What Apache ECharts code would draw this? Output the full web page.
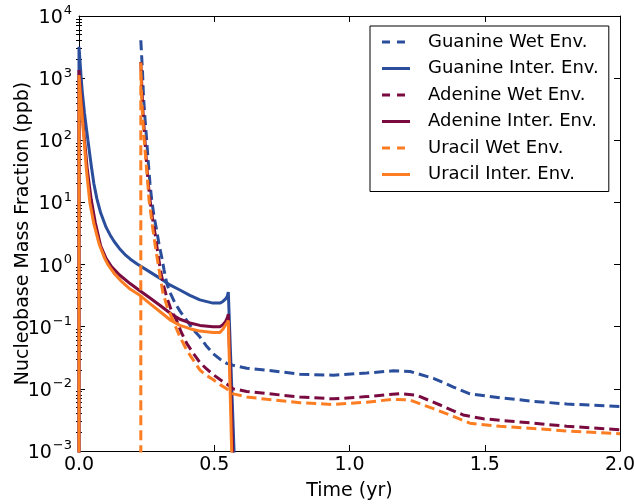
<!DOCTYPE html>
<html>
<head>
<meta charset="utf-8">
<script src="https://cdn.jsdelivr.net/npm/echarts@6/dist/echarts.min.js"></script>
<style>
html,body{margin:0;padding:0;background:#fff;}
#chart{width:634px;height:504px;}
</style>
</head>
<body>
<div id="chart"></div>
<script>
// ---- data: [time (yr), mass fraction (ppb)] ----
const guanineWet = [[0.2285,4070],[0.2348,1259],[0.2384,501],[0.2440,224],[0.2503,100],[0.2569,39.8],[0.2625,20],[0.2688,11],[0.2773,6.0],[0.2872,3.55],[0.2957,2.14],[0.3057,1.32],[0.3142,0.83],[0.3242,0.5],[0.3364,0.355],[0.3549,0.24],[0.3734,0.178],[0.3982,0.126],[0.4214,0.091],[0.4473,0.068],[0.4695,0.05],[0.4954,0.037],[0.5213,0.030],[0.5460,0.0257],[0.5693,0.024],[0.62,0.0214],[0.694,0.020],[0.817,0.0172],[0.94,0.0166],[1.064,0.018],[1.162,0.0195],[1.224,0.019],[1.31,0.0148],[1.384,0.0107],[1.445,0.0083],[1.556,0.0072],[1.68,0.0063],[1.803,0.0057],[2.0,0.0052]];
const guanineInter = [[0,1e-5],[0,3200],[0.004,1800],[0.008,1000],[0.013,550],[0.02,280],[0.027,160],[0.033,100],[0.045,40],[0.055,20],[0.066,11.5],[0.08,6.8],[0.1,4.0],[0.115,3.0],[0.13,2.35],[0.15,1.8],[0.17,1.45],[0.19,1.22],[0.215,1.02],[0.26,0.77],[0.3,0.6],[0.336,0.47],[0.373,0.39],[0.41,0.32],[0.447,0.27],[0.495,0.24],[0.521,0.24],[0.532,0.255],[0.542,0.28],[0.548,0.31],[0.552,0.36],[0.574,0.0008]];
const adenineWet = [[0.2285,1820],[0.2329,631],[0.2366,282],[0.2421,126],[0.2477,56],[0.2551,22.4],[0.2625,11],[0.2717,5.6],[0.2810,3.2],[0.2902,1.66],[0.2994,0.91],[0.3105,0.5],[0.3242,0.3],[0.3401,0.19],[0.3612,0.126],[0.3771,0.083],[0.3982,0.054],[0.4214,0.038],[0.4473,0.0263],[0.4695,0.0214],[0.4954,0.017],[0.5213,0.0141],[0.546,0.012],[0.5704,0.01],[0.62,0.0091],[0.694,0.0084],[0.817,0.0074],[0.94,0.0069],[1.064,0.0075],[1.187,0.0084],[1.248,0.0079],[1.335,0.0055],[1.42,0.0038],[1.495,0.0033],[1.68,0.0028],[1.803,0.0025],[2.0,0.0022]];
const adenineInter = [[0,1e-5],[0,1350],[0.005,680],[0.01,365],[0.015,190],[0.02,105],[0.03,36],[0.045,11.2],[0.06,4.8],[0.08,2.0],[0.1,1.26],[0.12,0.93],[0.15,0.68],[0.19,0.49],[0.225,0.38],[0.26,0.295],[0.3,0.22],[0.34,0.162],[0.373,0.132],[0.41,0.115],[0.447,0.105],[0.495,0.1],[0.521,0.1],[0.532,0.108],[0.542,0.122],[0.548,0.138],[0.552,0.16],[0.569,0.0008]];
const uracilWet = [[0.2285,1e-5],[0.2285,1780],[0.2311,562],[0.2348,251],[0.2403,112],[0.2458,56],[0.2514,29.5],[0.2588,11],[0.2662,6.3],[0.2736,3.55],[0.2828,1.9],[0.2921,1.05],[0.3013,0.6],[0.3105,0.35],[0.3272,0.2],[0.3475,0.126],[0.3715,0.071],[0.3982,0.042],[0.4214,0.0295],[0.4473,0.02],[0.4695,0.0166],[0.4954,0.0141],[0.5213,0.0117],[0.546,0.01],[0.5704,0.0083],[0.62,0.0074],[0.694,0.0068],[0.817,0.006],[0.94,0.0056],[1.064,0.0061],[1.162,0.0068],[1.224,0.0066],[1.31,0.0048],[1.384,0.0036],[1.445,0.0028],[1.556,0.0025],[1.68,0.0023],[1.803,0.0021],[2.0,0.0019]];
const uracilInter = [[0,1e-5],[0,1120],[0.005,550],[0.01,300],[0.015,158],[0.019,100],[0.027,35],[0.04,10],[0.055,4.5],[0.075,2.1],[0.095,1.26],[0.107,1.0],[0.13,0.72],[0.16,0.52],[0.19,0.4],[0.225,0.32],[0.26,0.24],[0.3,0.174],[0.34,0.126],[0.373,0.105],[0.41,0.093],[0.447,0.085],[0.495,0.081],[0.521,0.081],[0.532,0.091],[0.542,0.107],[0.548,0.117],[0.552,0.126],[0.565,0.0008]];

const seriesNames = ['Guanine Wet Env.','Guanine Inter. Env.','Adenine Wet Env.','Adenine Inter. Env.','Uracil Wet Env.','Uracil Inter. Env.'];
const xTicks = [0, 0.5, 1.0, 1.5, 2.0];
const yMajorTicks = [1e-3,1e-2,1e-1,1,10,100,1000,10000];
const yMinorTicks = [];
for (let e = -3; e < 4; e++) for (let k = 2; k <= 9; k++) yMinorTicks.push(+(k * Math.pow(10, e)).toPrecision(3));

const BLUE = '#2a4e9c', MAROON = '#7a0b40', ORANGE = '#fd7d22';
const seriesColors = [BLUE, BLUE, MAROON, MAROON, ORANGE, ORANGE];
const seriesDashed = [true, false, true, false, true, false];
const FONT = 'DejaVu Sans';

// legend glyphs (bounding box fixed to 28x14 by the two leading moveTo points)
const ICON_SOLID = 'path://M0,0 M28,14 M0,5.5 L28,5.5 L28,8.5 L0,8.5 Z';
const ICON_DASH = 'path://M0,0 M28,14 M0,5.5 L8,5.5 L8,8.5 L0,8.5 Z M15,5.5 L23,5.5 L23,8.5 L15,8.5 Z';

function supLabel(v) {
  const e = Math.round(Math.log10(v));
  return '{b|10}{s|' + (e < 0 ? '\u2212' + (-e) : e) + '}';
}

const chart = echarts.init(document.getElementById('chart'), null, {renderer: 'canvas'});

const yBase = {
  type: 'log', logBase: 10, min: 1e-3, max: 1e4,
  splitLine: {show: false}, minorTick: {show: false}, minorSplitLine: {show: false}
};

const seriesData = [guanineWet, guanineInter, adenineWet, adenineInter, uracilWet, uracilInter];

const option = {
  animation: false,
  backgroundColor: '#fff',
  grid: {left: 79, right: 14, top: 16, bottom: 53, containLabel: false, outerBoundsMode: 'none'},
  legend: {
    orient: 'vertical', left: 370, top: 26,
    data: seriesNames.map((n, i) => ({
      name: n,
      icon: seriesDashed[i] ? ICON_DASH : ICON_SOLID,
      itemStyle: {color: seriesColors[i], borderWidth: 0}
    })),
    itemWidth: 28, itemHeight: 14, itemGap: 8.5,
    padding: [7, 10, 8, 12],
    borderColor: '#000', borderWidth: 1, borderRadius: 0,
    backgroundColor: '#fff',
    textStyle: {fontFamily: FONT, fontSize: 18, color: '#000', padding: [0, 0, 0, 13]}
  },
  xAxis: [
    {type: 'value', position: 'bottom', min: 0, max: 2, interval: 0.5,
     name: 'Time (yr)', nameLocation: 'middle', nameGap: 31, nameMoveOverlap: false,
     nameTextStyle: {fontFamily: FONT, fontSize: 19, color: '#000'},
     axisLine: {show: true, onZero: false, lineStyle: {color: '#000', width: 1}},
     axisTick: {show: true, inside: true, length: 6, lineStyle: {color: '#000'}},
     axisLabel: {fontFamily: FONT, fontSize: 19, color: '#000', margin: 5,
       formatter: v => v.toFixed(1)},
     splitLine: {show: false}},
    {type: 'value', position: 'top', min: 0, max: 2, interval: 0.5,
     axisLine: {show: true, onZero: false, lineStyle: {color: '#000', width: 1}},
     axisTick: {show: true, inside: true, length: 6, lineStyle: {color: '#000'}},
     axisLabel: {show: false}, splitLine: {show: false}}
  ],
  yAxis: [
    Object.assign({}, yBase, {
      position: 'left',
      name: 'Nucleobase Mass Fraction (ppb)', nameLocation: 'middle', nameGap: 46, nameRotate: 90,
      nameMoveOverlap: false,
      nameTextStyle: {fontFamily: FONT, fontSize: 19, color: '#000'},
      axisLine: {show: true, onZero: false, lineStyle: {color: '#000', width: 1}},
      axisTick: {show: true, inside: true, length: 6, lineStyle: {color: '#000'}, customValues: yMajorTicks},
      axisLabel: {show: true, margin: 7, customValues: yMajorTicks, formatter: supLabel,
        rich: {
          b: {fontFamily: FONT, fontSize: 19, color: '#000', padding: [4, 0, 0, 0], verticalAlign: 'bottom'},
          s: {fontFamily: FONT, fontSize: 13, color: '#000', verticalAlign: 'top', padding: [0, 0, 0, 1]}
        }}
    }),
    Object.assign({}, yBase, {
      position: 'left',
      axisLine: {show: false},
      axisTick: {show: true, inside: true, length: 3, lineStyle: {color: '#000'}, customValues: yMinorTicks},
      axisLabel: {show: false}
    }),
    Object.assign({}, yBase, {
      position: 'right',
      axisLine: {show: true, onZero: false, lineStyle: {color: '#000', width: 1}},
      axisTick: {show: true, inside: true, length: 6, lineStyle: {color: '#000'}, customValues: yMajorTicks},
      axisLabel: {show: false}
    }),
    Object.assign({}, yBase, {
      position: 'right',
      axisLine: {show: false},
      axisTick: {show: true, inside: true, length: 3, lineStyle: {color: '#000'}, customValues: yMinorTicks},
      axisLabel: {show: false}
    })
  ],
  series: seriesData.map((d, i) => ({
    name: seriesNames[i],
    type: 'line', data: d, xAxisIndex: 0, yAxisIndex: 0,
    showSymbol: false, symbol: 'none', clip: true, smooth: false,
    lineStyle: {color: seriesColors[i], width: 3, type: seriesDashed[i] ? [10, 5] : 'solid', cap: 'butt'},
    itemStyle: {color: seriesColors[i]},
    z: 2
  }))
};
chart.setOption(option);
</script>
</body>
</html>
